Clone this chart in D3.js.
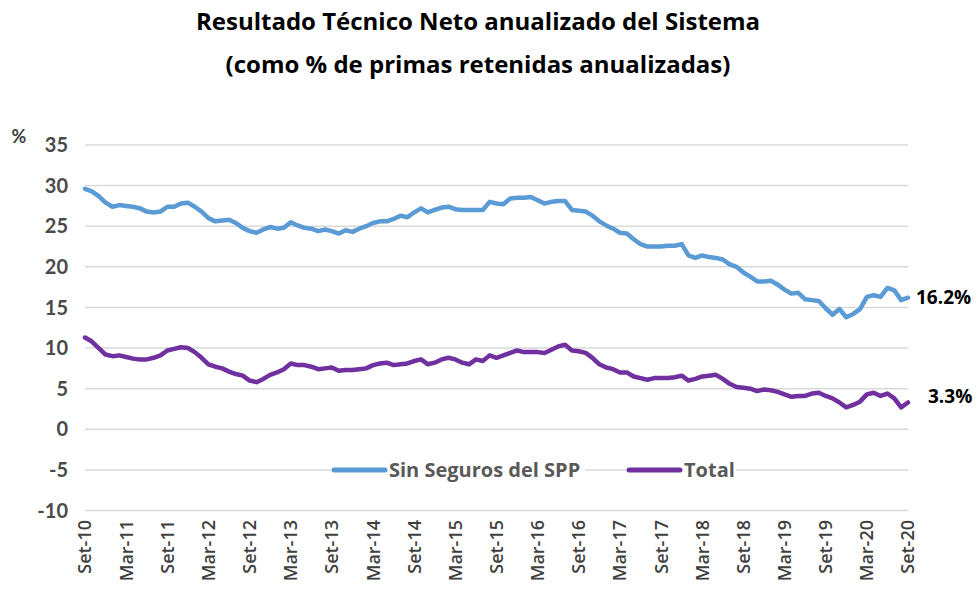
<!DOCTYPE html>
<html>
<head>
<meta charset="utf-8">
<script src="https://cdn.jsdelivr.net/npm/d3@7"></script>
<style>
  body { margin: 0; background: #fff; }
  svg { display: block; }
</style>
</head>
<body>
<svg id="chart" width="979" height="594"></svg>
<script>
// monthly series, Set-10 .. Set-20
var monthNames = ["Ene","Feb","Mar","Abr","May","Jun","Jul","Ago","Set","Oct","Nov","Dic"];

var sinSPP = [
  29.6,29.3,28.7,27.9,27.4,27.6,27.5,27.4,27.2,26.8,26.7,26.8,27.4,27.4,27.8,27.9,27.4,26.8,26.0,25.6,
  25.7,25.8,25.4,24.8,24.4,24.2,24.6,24.9,24.7,24.8,25.5,25.1,24.8,24.7,24.4,24.6,24.4,24.1,24.5,24.3,
  24.7,25.0,25.4,25.6,25.6,25.9,26.3,26.1,26.7,27.2,26.7,27.0,27.3,27.4,27.1,27.0,27.0,27.0,27.0,28.0,
  27.8,27.7,28.4,28.5,28.5,28.6,28.2,27.8,28.0,28.1,28.1,27.0,26.9,26.8,26.3,25.6,25.1,24.7,24.2,24.1,
  23.4,22.8,22.5,22.5,22.5,22.6,22.6,22.8,21.4,21.1,21.4,21.2,21.1,20.9,20.3,20.0,19.3,18.8,18.2,18.2,
  18.3,17.8,17.2,16.7,16.8,16.0,15.9,15.8,14.9,14.1,14.8,13.8,14.2,14.8,16.3,16.5,16.3,17.4,17.1,15.9,
  16.2
];

var total = [
  11.3,10.8,10.0,9.2,9.0,9.1,8.9,8.7,8.6,8.6,8.8,9.1,9.7,9.9,10.1,10.0,9.5,8.8,8.0,7.7,
  7.5,7.1,6.8,6.6,6.0,5.8,6.2,6.7,7.0,7.4,8.1,7.9,7.9,7.7,7.4,7.5,7.6,7.2,7.3,7.3,
  7.4,7.5,7.9,8.1,8.2,7.9,8.0,8.1,8.4,8.6,8.0,8.2,8.6,8.8,8.6,8.2,8.0,8.6,8.4,9.1,
  8.8,9.1,9.4,9.7,9.5,9.5,9.5,9.4,9.8,10.2,10.4,9.7,9.6,9.4,8.8,8.0,7.6,7.4,7.0,7.0,
  6.5,6.3,6.1,6.3,6.3,6.3,6.4,6.6,6.0,6.2,6.5,6.6,6.7,6.2,5.6,5.2,5.1,5.0,4.7,4.9,
  4.8,4.6,4.3,4.0,4.1,4.1,4.4,4.5,4.1,3.8,3.3,2.7,3.0,3.4,4.3,4.5,4.1,4.4,3.8,2.7,
  3.3
];

var yTicks = [35, 30, 25, 20, 15, 10, 5, 0, -5, -10];

var months = d3.range(sinSPP.length).map(function(i) {
  var m = (8 + i) % 12;
  var yr = 10 + Math.floor((8 + i) / 12);
  return monthNames[m] + "-" + yr;
});

var svg = d3.select("#chart");

var x = d3.scalePoint().domain(months).range([85, 908]);
var y = d3.scaleLinear().domain([-10, 35]).range([510.5, 145]);

// title
var titleLines = ["Resultado Técnico Neto anualizado del Sistema", "(como % de primas retenidas anualizadas)"];
svg.append("g")
  .selectAll("text")
  .data(titleLines)
  .enter().append("text")
    .attr("x", 478)
    .attr("y", function(d, i) { return 30 + i * 43; })
    .attr("text-anchor", "middle")
    .style("font-family", "Open Sans")
    .style("font-weight", "bold")
    .style("font-size", "24px")
    .attr("fill", "#000")
    .text(function(d) { return d; });

// gridlines
svg.append("g")
  .selectAll("line")
  .data(yTicks)
  .enter().append("line")
    .attr("x1", 85).attr("x2", 908)
    .attr("y1", function(d) { return y(d); })
    .attr("y2", function(d) { return y(d); })
    .attr("stroke", "#d9d9d9")
    .attr("stroke-width", 1.5);

// y labels
svg.append("g")
  .selectAll("text")
  .data(yTicks)
  .enter().append("text")
    .attr("x", 68)
    .attr("y", function(d) { return y(d); })
    .attr("dy", "0.36em")
    .attr("text-anchor", "end")
    .style("font-family", "Lato")
    .style("font-weight", "bold")
    .style("font-size", "20px")
    .attr("fill", "#4a4a4a")
    .text(function(d) { return d; });

svg.append("text")
  .attr("x", 19).attr("y", 143)
  .attr("text-anchor", "middle")
  .style("font-family", "Lato")
  .style("font-weight", "bold")
  .style("font-size", "18px")
  .attr("fill", "#404040")
  .text("%");

// x labels
var xLabels = months.filter(function(d, i) { return i % 6 === 0; });
svg.append("g")
  .selectAll("text")
  .data(xLabels)
  .enter().append("text")
    .attr("transform", function(d) { return "translate(" + x(d) + ",520)rotate(-90)"; })
    .attr("dy", "0.36em")
    .attr("text-anchor", "end")
    .style("font-family", "Open Sans")
    .style("font-weight", "600")
    .style("font-size", "18px")
    .attr("fill", "#404040")
    .text(function(d) { return d; });

// lines
var line = d3.line()
  .x(function(d, i) { return x(months[i]); })
  .y(function(d) { return y(d); });

svg.append("path")
  .datum(sinSPP)
  .attr("d", line)
  .attr("fill", "none")
  .attr("stroke", "#5b9bd5")
  .attr("stroke-width", 4.5)
  .attr("stroke-linejoin", "round")
  .attr("stroke-linecap", "round");

svg.append("path")
  .datum(total)
  .attr("d", line)
  .attr("fill", "none")
  .attr("stroke", "#7030a0")
  .attr("stroke-width", 4.5)
  .attr("stroke-linejoin", "round")
  .attr("stroke-linecap", "round");

// end labels
svg.append("text")
  .attr("x", 916).attr("y", y(sinSPP[sinSPP.length - 1]))
  .attr("dy", "0.35em")
  .style("font-family", "Open Sans")
  .style("font-weight", "bold")
  .style("font-size", "19px")
  .attr("fill", "#000")
  .text(sinSPP[sinSPP.length - 1].toFixed(1) + "%");

svg.append("text")
  .attr("x", 928).attr("y", y(total[total.length - 1]) - 6)
  .attr("dy", "0.35em")
  .style("font-family", "Open Sans")
  .style("font-weight", "bold")
  .style("font-size", "19px")
  .attr("fill", "#000")
  .text(total[total.length - 1].toFixed(1) + "%");

// legend
var legend = [
  { name: "Sin Seguros del SPP", color: "#5b9bd5", x: 334, w: 254 },
  { name: "Total", color: "#7030a0", x: 629, w: 110 }
];
var lg = svg.append("g").selectAll("g")
  .data(legend)
  .enter().append("g")
    .attr("transform", function(d) { return "translate(" + d.x + "," + y(-5) + ")"; });

lg.append("rect")
  .attr("x", -3).attr("y", -12)
  .attr("width", function(d) { return d.w; })
  .attr("height", 24)
  .attr("fill", "#fff");

lg.append("line")
  .attr("x1", 0).attr("x2", 51)
  .attr("stroke", function(d) { return d.color; })
  .attr("stroke-width", 5)
  .attr("stroke-linecap", "round");

lg.append("text")
  .attr("x", 55)
  .attr("dy", "0.35em")
  .style("font-family", "Open Sans")
  .style("font-weight", "bold")
  .style("font-size", "20px")
  .attr("fill", "#595959")
  .text(function(d) { return d.name; });
</script>
</body>
</html>
